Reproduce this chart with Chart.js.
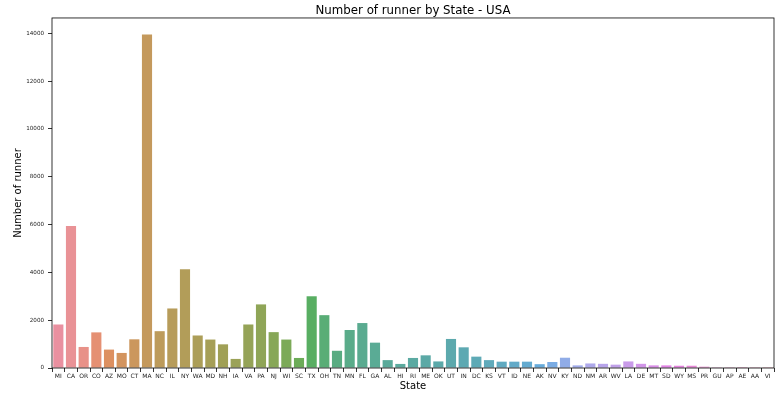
<!DOCTYPE html>
<html>
<head>
<meta charset="utf-8">
<script src="https://cdn.jsdelivr.net/npm/chart.js@4.4.1/dist/chart.umd.min.js"></script>
<style>
  html, body { margin: 0; padding: 0; background: #fff; }
  canvas { display: block; }
</style>
</head>
<body>
<canvas id="runnerChart" width="781" height="395"></canvas>
<script>
// states in plot order
const states = ['MI', 'CA', 'OR', 'CO', 'AZ', 'MO', 'CT', 'MA', 'NC', 'IL', 'NY', 'WA', 'MD', 'NH', 'IA',
  'VA', 'PA', 'NJ', 'WI', 'SC', 'TX', 'OH', 'TN', 'MN', 'FL', 'GA', 'AL', 'HI', 'RI', 'ME', 'OK', 'UT',
  'IN', 'DC', 'KS', 'VT', 'ID', 'NE', 'AK', 'NV', 'KY', 'ND', 'NM', 'AR', 'WV', 'LA', 'DE', 'MT', 'SD',
  'WY', 'MS', 'PR', 'GU', 'AP', 'AE', 'AA', 'VI'];

// number of runners per state
const runners = [1820, 5940, 880, 1490, 770, 630, 1200, 13950, 1540, 2490, 4130, 1360, 1190, 990, 380,
  1820, 2660, 1500, 1190, 420, 3000, 2210, 720, 1590, 1880, 1060, 330, 170, 420, 530, 275, 1215,
  865, 475, 330, 265, 265, 265, 160, 250, 430, 110, 190, 175, 140, 275, 175, 110, 110,
  95, 95, 55, 5, 3, 35, 3, 2];

const yTicks = [0, 2000, 4000, 6000, 8000, 10000, 12000, 14000];
const yMax = 14640;

// seaborn husl palette (h=.01, s=.9, l=.65) then desaturated by .75
const M = [[3.2406, -1.5372, -0.4986], [-0.9689, 1.8758, 0.0415], [0.0557, -0.2040, 1.0570]];
const refU = 0.19784, refV = 0.46834, kappa = 903.2963, epsilon = 0.0088564;

function maxChroma(L, H) {
  const hrad = H / 360 * 2 * Math.PI;
  const sinH = Math.sin(hrad), cosH = Math.cos(hrad);
  const sub1 = Math.pow(L + 16, 3) / 1560896;
  const sub2 = sub1 > epsilon ? sub1 : L / kappa;
  let result = Infinity;
  for (const [m1, m2, m3] of M) {
    const top = (0.99915 * m1 + 1.05122 * m2 + 1.14460 * m3) * sub2;
    const rbottom = 0.86330 * m3 - 0.17266 * m2;
    const lbottom = 0.12949 * m3 - 0.38848 * m1;
    const bottom = (rbottom * sinH + lbottom * cosH) * sub2;
    for (const t of [0, 1]) {
      const C = L * (top - 1.05122 * t) / (bottom + 0.17266 * sinH * t);
      if (C > 0 && C < result) result = C;
    }
  }
  return result;
}

function fromLinear(c) {
  return c <= 0.0031308 ? 12.92 * c : 1.055 * Math.pow(c, 1 / 2.4) - 0.055;
}

function huslToRgb(H, S, L) {
  const C = maxChroma(L, H) / 100 * S;
  const hrad = H / 360 * 2 * Math.PI;
  const U = Math.cos(hrad) * C, V = Math.sin(hrad) * C;
  const varY = L > 8 ? Math.pow((L + 16) / 116, 3) : L / kappa;
  const varU = U / (13 * L) + refU;
  const varV = V / (13 * L) + refV;
  const Y = varY;
  const X = -(9 * Y * varU) / ((varU - 4) * varV - varU * varV);
  const Z = (9 * Y - 15 * varV * Y - varV * X) / (3 * varV);
  return M.map(r => Math.min(1, Math.max(0, fromLinear(r[0] * X + r[1] * Y + r[2] * Z))));
}

function desaturate([r, g, b], prop) {
  // rgb -> hls (colorsys)
  const mx = Math.max(r, g, b), mn = Math.min(r, g, b);
  let h = 0, s = 0;
  const l = (mx + mn) / 2;
  if (mx !== mn) {
    const d = mx - mn;
    s = l <= 0.5 ? d / (mx + mn) : d / (2 - mx - mn);
    const rc = (mx - r) / d, gc = (mx - g) / d, bc = (mx - b) / d;
    if (r === mx) h = bc - gc;
    else if (g === mx) h = 2 + rc - bc;
    else h = 4 + gc - rc;
    h = ((h / 6) % 1 + 1) % 1;
  }
  s *= prop;
  if (s === 0) return [l, l, l];
  const m2 = l <= 0.5 ? l * (1 + s) : l + s - l * s;
  const m1 = 2 * l - m2;
  const v = (hue) => {
    hue = ((hue % 1) + 1) % 1;
    if (hue < 1 / 6) return m1 + (m2 - m1) * hue * 6;
    if (hue < 0.5) return m2;
    if (hue < 2 / 3) return m1 + (m2 - m1) * (2 / 3 - hue) * 6;
    return m1;
  };
  return [v(h + 1 / 3), v(h), v(h - 1 / 3)];
}

const n = states.length;
const barColors = states.map((_, i) => {
  const hue = ((i / n) + 0.01) % 1 * 359;
  const rgb = desaturate(huslToRgb(hue, 0.9 * 99, 0.65 * 99), 0.75);
  // the reference looks a touch lighter (white bar edges blurred in)
  return 'rgb(' + rgb.map(c => Math.round((c * 0.88 + 0.12) * 255)).join(',') + ')';
});

const chartAreaBorder = {
  id: 'chartAreaBorder',
  afterDraw(chart) {
    const {ctx, chartArea: {left, top, width, height}} = chart;
    ctx.save();
    ctx.strokeStyle = '#000';
    ctx.lineWidth = 0.8;
    ctx.strokeRect(left, top, width, height);
    ctx.restore();
  }
};

const ctx = document.getElementById('runnerChart').getContext('2d');
new Chart(ctx, {
  type: 'bar',
  data: {
    labels: states,
    datasets: [{
      label: 'Number of runner',
      data: runners,
      backgroundColor: barColors,
      borderWidth: 0,
      barPercentage: 0.8,
      categoryPercentage: 1.0
    }]
  },
  options: {
    responsive: false,
    animation: false,
    layout: { padding: { left: 0, right: 7, top: 0, bottom: 0 } },
    plugins: {
      legend: { display: false },
      tooltip: { enabled: false },
      title: {
        display: true,
        fullSize: false,
        text: 'Number of runner by State - USA',
        color: '#000',
        font: { family: 'DejaVu Sans', size: 11.8, weight: 'normal', lineHeight: 1.15 },
        padding: { top: 4, bottom: 0.4 }
      }
    },
    scales: {
      x: {
        afterFit: (s) => { s.height = 27; },
        border: { display: false },
        grid: { drawOnChartArea: false, drawTicks: true, tickLength: 4, color: '#000', lineWidth: 0.8 },
        ticks: {
          autoSkip: false, maxRotation: 0, minRotation: 0, padding: 1,
          color: '#222',
          font: { family: 'DejaVu Sans', size: 6 }
        },
        title: {
          display: true,
          text: 'State',
          color: '#000',
          font: { family: 'DejaVu Sans', size: 10 },
          padding: { top: 0, bottom: 3 }
        }
      },
      y: {
        min: 0,
        max: yMax,
        afterFit: (s) => { s.width = 52; },
        afterBuildTicks: (s) => { s.ticks = yTicks.map(v => ({ value: v })); },
        border: { display: false },
        grid: { drawOnChartArea: false, drawTicks: true, tickLength: 4, color: '#000', lineWidth: 0.8 },
        ticks: {
          padding: 4,
          color: '#222',
          font: { family: 'DejaVu Sans', size: 5.6 },
          callback: (v) => String(v)
        },
        title: {
          display: true,
          text: 'Number of runner',
          color: '#000',
          font: { family: 'DejaVu Sans', size: 10 },
          padding: { top: 12, bottom: 0 }
        }
      }
    }
  },
  plugins: [chartAreaBorder]
});
</script>
</body>
</html>
